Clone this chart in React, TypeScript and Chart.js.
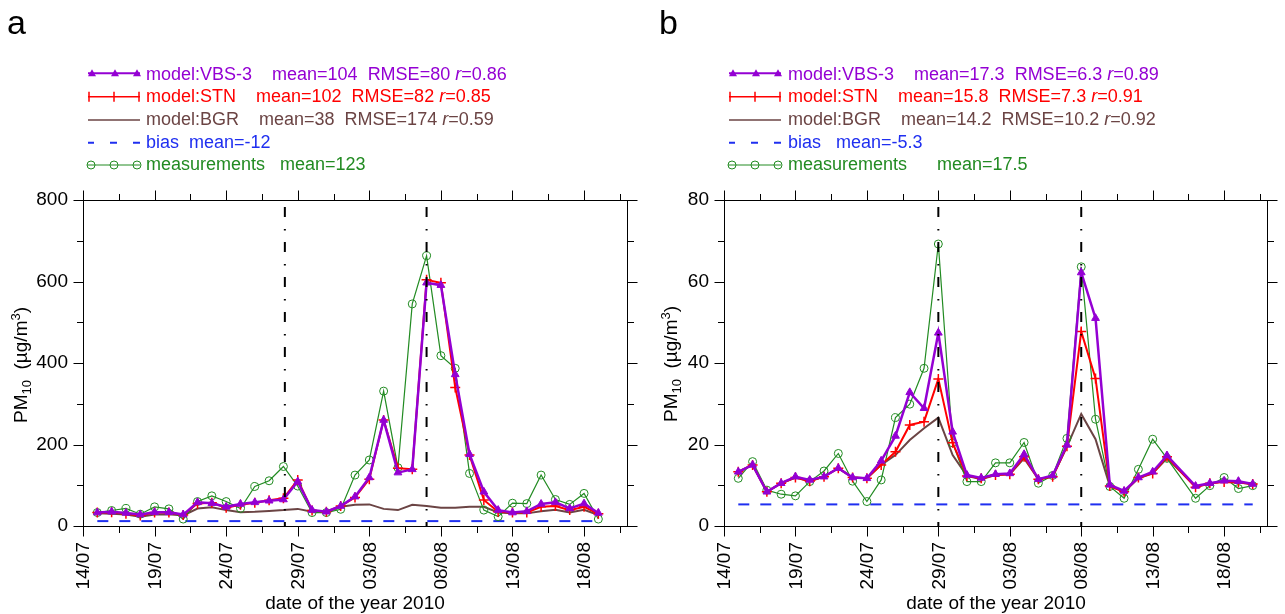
import React, { useEffect, useRef } from 'react';
import { Chart, registerables } from 'chart.js';

Chart.register(...registerables);

const FONT = '"Liberation Sans", Arial, Helvetica, sans-serif';

// ---- x axis: days counted from 14/07/2010 ----
const dateTickLabels = ['14/07', '19/07', '24/07', '29/07', '03/08', '08/08', '13/08', '18/08'];
const dateTickStep = 5;
const axisDays = 38;
const firstDataDay = 1;

// ---- panel a ----
const aMeasurements = [33, 38, 43, 29, 47, 42, 17, 60, 74, 60, 43, 97, 111, 146, 98, 33, 33, 41, 125, 162, 331, 143, 545, 663, 418, 387, 129, 39, 23, 56, 55, 125, 65, 53, 80, 17];
const aVBS3 = [33, 35, 32, 28, 34, 34, 28, 58, 56, 47, 54, 58, 62, 65, 109, 39, 35, 49, 72, 119, 260, 131, 139, 597, 591, 372, 176, 84, 39, 33, 36, 54, 58, 43, 55, 32];
const aSTN = [33, 34, 30, 26, 33, 33, 27, 55, 57, 45, 52, 57, 63, 68, 113, 38, 35, 49, 70, 115, 260, 142, 139, 604, 597, 340, 174, 64, 35, 33, 33, 47, 49, 39, 47, 30];
const aBGR = [31, 30, 28, 23, 28, 29, 26, 43, 46, 39, 34, 35, 37, 39, 42, 35, 34, 47, 52, 53, 42, 39, 52, 49, 45, 45, 47, 47, 33, 31, 31, 36, 40, 33, 40, 27];
const aBiasLevel = 12;
const aEventDays = [14.1, 24];
const aYMax = 800;
const aYStep = 200;

// ---- panel b ----
const bMeasurements = [11.7, 15.8, 8.8, 7.8, 7.4, 10.9, 13.5, 17.8, 11.0, 6.0, 11.3, 26.6, 29.9, 38.7, 69.2, 20.4, 10.9, 10.9, 15.5, 15.5, 20.5, 10.5, 12.4, 21.5, 63.6, 26.2, 9.7, 6.8, 13.9, 21.3, 16.6, null, 6.8, 9.9, 11.9, 9.2, 9.9];
const bVBS3 = [13.3, 15.0, 8.4, 10.5, 12.1, 11.3, 12.1, 14.2, 11.9, 11.7, 16.0, 22.1, 32.8, 28.9, 47.4, 23.1, 12.5, 11.8, 12.7, 12.9, 17.6, 11.5, 12.4, 19.9, 62.2, 51.0, 10.1, 8.6, 11.9, 13.3, 17.3, null, 9.8, 10.5, 11.1, 11.0, 10.3];
const bSTN = [13.3, 15.0, 8.4, 10.5, 11.9, 11.0, 12.1, 14.2, 11.9, 11.7, 15.0, 18.2, 24.8, 25.6, 36.1, 20.4, 12.3, 11.7, 12.5, 12.7, 17.0, 11.5, 12.1, 19.6, 47.7, 36.2, 9.8, 8.4, 11.9, 12.9, 17.0, null, 9.5, 10.5, 10.8, 10.7, 10.3];
const bBGR = [13.3, 15.0, 8.4, 10.5, 11.9, 11.0, 12.1, 14.2, 11.9, 11.7, 15.0, 17.4, 21.1, 24.0, 26.6, 17.4, 12.3, 11.5, 12.5, 12.7, 16.6, 11.5, 12.1, 19.5, 27.5, 21.3, 9.8, 8.4, 11.7, 12.9, 16.6, null, 9.7, 10.4, 11.0, 10.7, 10.3];
const bBiasLevel = 5.3;
const bEventDays = [15, 25];
const bYMax = 80;
const bYStep = 20;

// ---- legend texts ----
const aLegendTexts = [
  'model:VBS-3    mean=104  RMSE=80 r=0.86',
  'model:STN    mean=102  RMSE=82 r=0.85',
  'model:BGR    mean=38  RMSE=174 r=0.59',
  'bias  mean=-12',
  'measurements   mean=123',
];
const bLegendTexts = [
  'model:VBS-3    mean=17.3  RMSE=6.3 r=0.89',
  'model:STN    mean=15.8  RMSE=7.3 r=0.91',
  'model:BGR    mean=14.2  RMSE=10.2 r=0.92',
  'bias   mean=-5.3',
  'measurements      mean=17.5',
];

const COL = {
  vbs: '#9400D3',
  stn: '#FF0000',
  bgr: '#6B4444',
  bias: '#1F2FF0',
  meas: '#228B22',
};
const legendColors = [COL.vbs, COL.stn, COL.bgr, COL.bias, COL.meas];
const legendBaselines = [80, 102.5, 125, 148, 170.5];
const legendIconY = [73.3, 96.7, 120, 142.7, 165];

function toPoints(vals: (number | null)[]) {
  return vals.map((v, i) => ({ x: firstDataDay + i, y: v }));
}

function drawLegendIcons(ctx: CanvasRenderingContext2D, x0: number) {
  const w = 52;
  let y = legendIconY[0];
  ctx.strokeStyle = COL.vbs; ctx.fillStyle = COL.vbs; ctx.lineWidth = 2;
  ctx.beginPath(); ctx.moveTo(x0, y); ctx.lineTo(x0 + w, y); ctx.stroke();
  [x0 + 4, x0 + 27, x0 + 49].forEach((cx) => {
    ctx.beginPath(); ctx.moveTo(cx, y - 4); ctx.lineTo(cx + 4, y + 3); ctx.lineTo(cx - 4, y + 3); ctx.closePath(); ctx.fill();
  });
  y = legendIconY[1];
  ctx.strokeStyle = COL.stn; ctx.lineWidth = 1.5;
  ctx.beginPath(); ctx.moveTo(x0, y); ctx.lineTo(x0 + w, y);
  [x0 + 1, x0 + 26, x0 + 51].forEach((cx) => { ctx.moveTo(cx, y - 5); ctx.lineTo(cx, y + 5); });
  ctx.stroke();
  y = legendIconY[2];
  ctx.strokeStyle = COL.bgr; ctx.lineWidth = 1.5;
  ctx.beginPath(); ctx.moveTo(x0, y); ctx.lineTo(x0 + w, y); ctx.stroke();
  y = legendIconY[3];
  ctx.strokeStyle = COL.bias; ctx.lineWidth = 2;
  ctx.beginPath();
  [[x0, x0 + 6], [x0 + 22, x0 + 29], [x0 + 45, x0 + w]].forEach(([s, e]) => { ctx.moveTo(s, y); ctx.lineTo(e, y); });
  ctx.stroke();
  y = legendIconY[4];
  ctx.strokeStyle = COL.meas; ctx.lineWidth = 1;
  ctx.beginPath(); ctx.moveTo(x0 - 1, y); ctx.lineTo(x0 + w, y); ctx.stroke();
  [x0 + 3, x0 + 26, x0 + 49].forEach((cx) => {
    ctx.beginPath(); ctx.arc(cx, y, 4, 0, Math.PI * 2); ctx.stroke();
  });
}

const decorPlugin = {
  id: 'decor',
  afterDraw(chart: any, _args: any, opts: any) {
    const { ctx, chartArea: a } = chart;
    const xs = chart.scales.x;
    const ys = chart.scales.y;
    ctx.save();
    ctx.strokeStyle = '#000';
    ctx.lineWidth = 1;
    const L = Math.round(a.left) + 0.5;
    const R = Math.round(a.right) + 0.5;
    const T = Math.round(a.top) + 0.5;
    const B = Math.round(a.bottom) + 0.5;
    ctx.strokeRect(L, T, R - L, B - T);
    const majorLen = 10;
    const minorLen = 6.5;
    const xMajor = dateTickLabels.map((_, i) => i * dateTickStep);
    const xMinor = xMajor.map((v) => v + dateTickStep / 2).filter((v) => v < axisDays);
    ctx.beginPath();
    const xt: [number, number][] = [...xMajor.map((v) => [v, majorLen] as [number, number]), ...xMinor.map((v) => [v, minorLen] as [number, number])];
    xt.forEach(([v, len]) => {
      const px = Math.round(xs.getPixelForValue(v)) + 0.5;
      ctx.moveTo(px, B); ctx.lineTo(px, B + len);
      ctx.moveTo(px, T); ctx.lineTo(px, T - len);
    });
    const yt: [number, number][] = [];
    for (let v = 0; v <= opts.yMax + 1e-9; v += opts.yStep) yt.push([v, majorLen]);
    for (let v = opts.yStep / 2; v < opts.yMax; v += opts.yStep) yt.push([v, minorLen]);
    yt.forEach(([v, len]) => {
      const py = Math.round(ys.getPixelForValue(v)) + 0.5;
      ctx.moveTo(L, py); ctx.lineTo(L - len, py);
      ctx.moveTo(R, py); ctx.lineTo(R + len, py);
    });
    ctx.stroke();

    ctx.fillStyle = '#000';
    ctx.font = `19px ${FONT}`;
    ctx.textAlign = 'right';
    ctx.textBaseline = 'middle';
    xMajor.forEach((v, i) => {
      const px = xs.getPixelForValue(v);
      ctx.save();
      ctx.translate(px + 1, a.bottom + 16);
      ctx.rotate(-Math.PI / 2);
      ctx.fillText(dateTickLabels[i], 0, 0);
      ctx.restore();
    });

    drawLegendIcons(ctx, opts.legendIconX);
    ctx.restore();
  },
};

type PanelProps = {
  left: number;
  meas: (number | null)[];
  vbs: (number | null)[];
  stn: (number | null)[];
  bgr: (number | null)[];
  bias: number;
  events: number[];
  yMax: number;
  yStep: number;
  yAxisWidth: number;
  legendIconX: number;
};

const CW = 645;
const CH = 614;

function PanelChart(p: PanelProps) {
  const ref = useRef<HTMLCanvasElement | null>(null);
  useEffect(() => {
    if (!ref.current) return;
    const lastDay = firstDataDay + p.meas.length - 1;
    const eventSets = p.events.map((d) => ({
      data: [{ x: d, y: p.yMax }, { x: d, y: 0 }],
      borderColor: '#000',
      borderWidth: 2,
      borderDash: [10, 12, 1.5, 11.5],
      borderDashOffset: 28,
      pointRadius: 0,
      fill: false,
    }));
    const chart = new Chart(ref.current, {
      type: 'line',
      data: {
        datasets: [
          ...eventSets,
          {
            data: toPoints(p.vbs),
            borderColor: COL.vbs,
            backgroundColor: COL.vbs,
            borderWidth: 2.5,
            pointStyle: 'triangle',
            pointRadius: 4.5,
            pointBorderWidth: 1,
            spanGaps: true,
          },
          {
            data: toPoints(p.stn),
            borderColor: COL.stn,
            backgroundColor: COL.stn,
            borderWidth: 2,
            pointStyle: 'cross',
            pointRadius: 5,
            pointBorderWidth: 1.5,
            spanGaps: true,
          },
          {
            data: toPoints(p.meas),
            borderColor: COL.meas,
            backgroundColor: 'rgba(0,0,0,0)',
            borderWidth: 1.2,
            pointStyle: 'circle',
            pointRadius: 4,
            pointBorderWidth: 1,
            spanGaps: true,
          },
          {
            data: toPoints(p.bgr),
            borderColor: COL.bgr,
            borderWidth: 2,
            pointRadius: 0,
            spanGaps: true,
          },
          {
            data: [{ x: firstDataDay, y: p.bias }, { x: lastDay, y: p.bias }],
            borderColor: COL.bias,
            borderWidth: 2,
            borderDash: [11, 11],
            pointRadius: 0,
          },
        ] as any,
      },
      options: {
        responsive: false,
        animation: false,
        devicePixelRatio: 1,
        events: [],
        layout: { padding: { left: 0, top: 200, right: CW - 627, bottom: CH - 526 - 80 } },
        elements: { line: { tension: 0 } },
        plugins: {
          legend: { display: false },
          tooltip: { enabled: false },
          decor: { yMax: p.yMax, yStep: p.yStep, legendIconX: p.legendIconX },
        } as any,
        scales: {
          x: {
            type: 'linear',
            min: 0,
            max: axisDays,
            ticks: { display: false },
            grid: { display: false, drawTicks: false },
            border: { display: false },
            afterFit: (s: any) => { s.height = 80; },
          },
          y: {
            type: 'linear',
            min: 0,
            max: p.yMax,
            ticks: { stepSize: p.yStep, color: '#000', font: { family: FONT, size: 19 }, padding: 15 },
            grid: { display: false, drawTicks: false },
            border: { display: false },
            afterFit: (s: any) => { s.width = p.yAxisWidth; },
          },
        } as any,
      },
      plugins: [decorPlugin],
    });
    return () => chart.destroy();
  }, []);
  return (
    <canvas
      ref={ref}
      width={CW}
      height={CH}
      style={{ position: 'absolute', left: p.left, top: 0, width: CW, height: CH }}
    />
  );
}

function LegendTexts({ texts, x }: { texts: string[]; x: number }) {
  return (
    <>
      {texts.map((t, ri) => {
        const k = t.indexOf(' r=');
        return (
          <div
            key={ri}
            style={{
              position: 'absolute',
              left: x,
              top: legendBaselines[ri] - 16.24,
              fontSize: 18,
              lineHeight: '20px',
              color: legendColors[ri],
              whiteSpace: 'pre',
            }}
          >
            {k >= 0 ? (<>{t.slice(0, k + 1)}<i>r</i>{t.slice(k + 2)}</>) : t}
          </div>
        );
      })}
    </>
  );
}

function YTitle({ cx, cy }: { cx: number; cy: number }) {
  return (
    <div
      style={{
        position: 'absolute',
        left: cx,
        top: cy,
        transform: 'translate(-50%, -50%) rotate(-90deg)',
        fontSize: 19,
        lineHeight: '22px',
        whiteSpace: 'nowrap',
      }}
    >
      PM<span style={{ fontSize: 13, position: 'relative', top: 4 }}>10</span>
      {'\u00a0\u00a0'}(µg/m<span style={{ fontSize: 13, position: 'relative', top: -7 }}>3</span>)
    </div>
  );
}

function XTitle({ cx, cy }: { cx: number; cy: number }) {
  return (
    <div
      style={{
        position: 'absolute',
        left: cx,
        top: cy,
        transform: 'translate(-50%, -50%)',
        fontSize: 19,
        lineHeight: '22px',
        whiteSpace: 'nowrap',
      }}
    >
      date of the year 2010
    </div>
  );
}

export default function App() {
  return (
    <div
      style={{
        position: 'absolute',
        left: 0,
        top: 0,
        width: 1285,
        height: 614,
        overflow: 'hidden',
        background: '#fff',
        fontFamily: FONT,
        color: '#000',
      }}
    >
      <PanelChart
        left={0}
        meas={aMeasurements}
        vbs={aVBS3}
        stn={aSTN}
        bgr={aBGR}
        bias={aBiasLevel}
        events={aEventDays}
        yMax={aYMax}
        yStep={aYStep}
        yAxisWidth={83}
        legendIconX={88}
      />
      <PanelChart
        left={640}
        meas={bMeasurements}
        vbs={bVBS3}
        stn={bSTN}
        bgr={bBGR}
        bias={bBiasLevel}
        events={bEventDays}
        yMax={bYMax}
        yStep={bYStep}
        yAxisWidth={84}
        legendIconX={89}
      />
      <LegendTexts texts={aLegendTexts} x={146} />
      <LegendTexts texts={bLegendTexts} x={788} />
      <YTitle cx={22} cy={365} />
      <YTitle cx={672} cy={364} />
      <XTitle cx={355} cy={603} />
      <XTitle cx={996} cy={603} />
      <div style={{ position: 'absolute', left: 7, top: 2, fontSize: 34, lineHeight: '40px' }}>a</div>
      <div style={{ position: 'absolute', left: 659, top: 2, fontSize: 34, lineHeight: '40px' }}>b</div>
    </div>
  );
}
